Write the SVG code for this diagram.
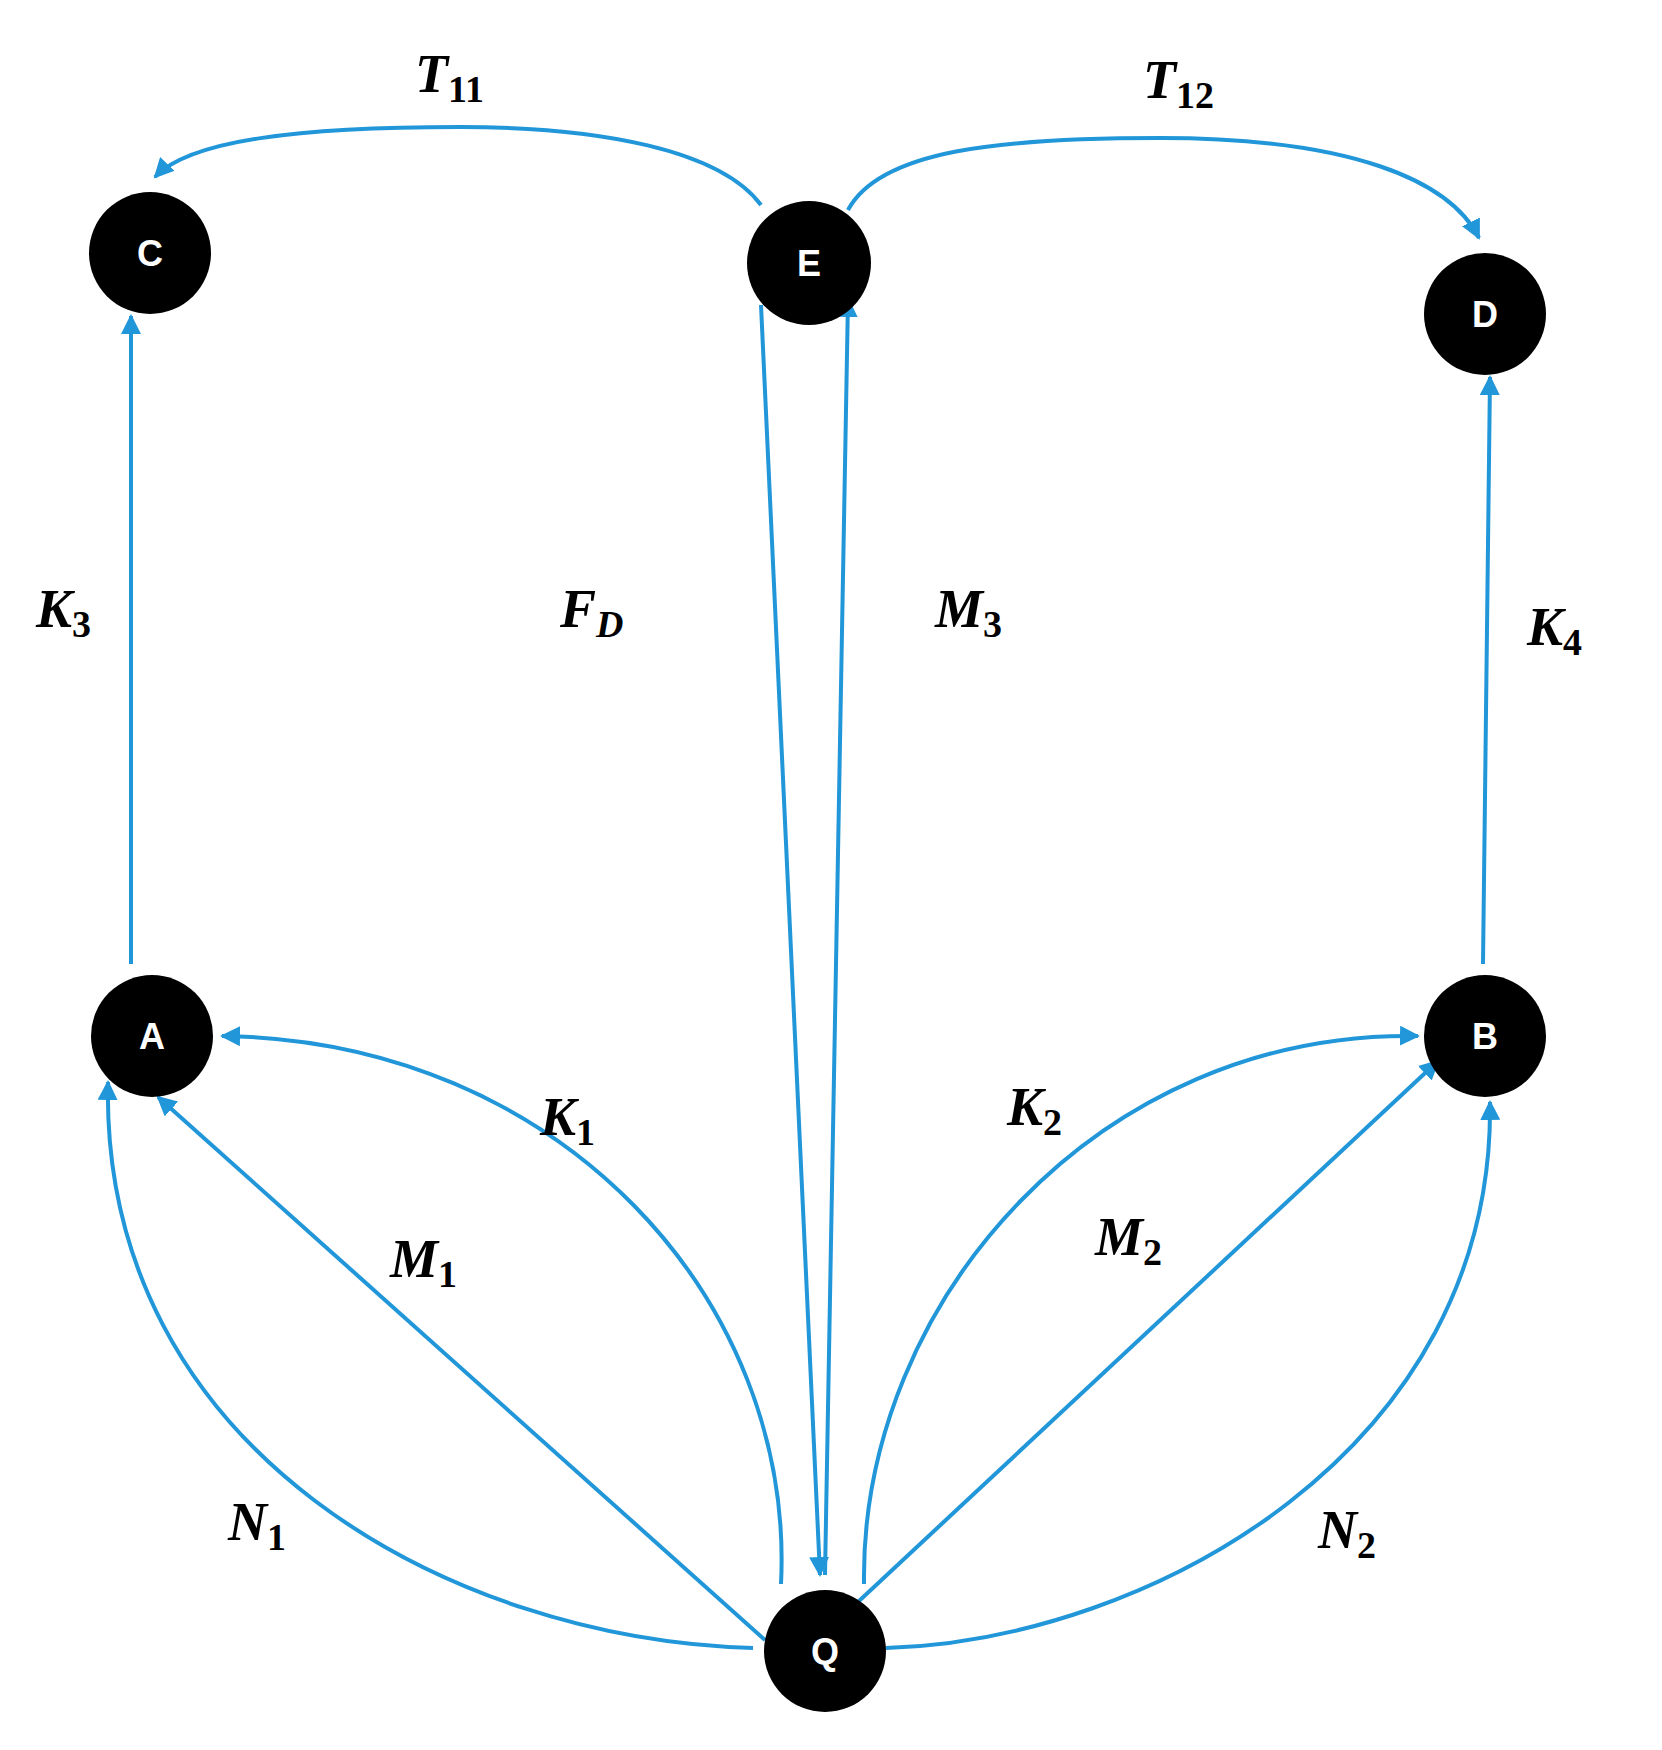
<svg xmlns="http://www.w3.org/2000/svg" width="1662" height="1750" viewBox="0 0 1662 1750">
<style>
.n{fill:#000}
.nt{fill:#fff;font-family:"Liberation Sans",Arial,sans-serif;font-size:36px;font-weight:bold;text-anchor:middle}
.e{fill:none;stroke:#2196d8;stroke-width:4}
.l{font-family:"Liberation Serif","Times New Roman",serif;font-weight:bold;font-style:italic;font-size:54px;fill:#000}
.s{font-size:38px;font-style:normal}
</style>
<defs>
<marker id="ar" viewBox="0 0 10 10" refX="9" refY="5" markerWidth="5" markerHeight="5" orient="auto" markerUnits="strokeWidth">
<path d="M0,0 L10,5 L0,10 z" fill="#2196d8"/>
</marker>
</defs>
<rect width="1662" height="1750" fill="#fff"/>
<g id="connectors">
<path class="e" marker-end="url(#ar)" d="M761,205 C720,150 600,127 460,127 C300,127 190,140 155,177"/>
<path class="e" marker-end="url(#ar)" d="M848,210 C880,150 1000,138 1160,138 C1350,138 1450,180 1479,238"/>
<path class="e" marker-end="url(#ar)" d="M131,964 L131,316"/>
<path class="e" marker-end="url(#ar)" d="M1483,964 L1490,377"/>
<path class="e" marker-end="url(#ar)" d="M761,305 L820,1575"/>
<path class="e" marker-end="url(#ar)" d="M825,1575 L848,299"/>
<path class="e" marker-end="url(#ar)" d="M781,1584 C795,1300 560,1040 222,1036"/>
<path class="e" marker-end="url(#ar)" d="M765,1640 L158,1097"/>
<path class="e" marker-end="url(#ar)" d="M753,1648 C450,1640 100,1450 108,1082"/>
<path class="e" marker-end="url(#ar)" d="M864,1584 C860,1300 1100,1030 1418,1036"/>
<path class="e" marker-end="url(#ar)" d="M859,1601 L1438,1061"/>
<path class="e" marker-end="url(#ar)" d="M886,1648 C1150,1640 1495,1450 1490,1102"/>
</g>
<g id="C"><circle class="n" cx="150" cy="253" r="61"/><text class="nt" x="150" y="266">C</text></g>
<g id="E"><circle class="n" cx="809" cy="263" r="62"/><text class="nt" x="809" y="276">E</text></g>
<g id="D"><circle class="n" cx="1485" cy="314" r="61"/><text class="nt" x="1485" y="327">D</text></g>
<g id="A"><circle class="n" cx="152" cy="1036" r="61"/><text class="nt" x="152" y="1049">A</text></g>
<g id="B"><circle class="n" cx="1485" cy="1036" r="61"/><text class="nt" x="1485" y="1049">B</text></g>
<g id="Q"><circle class="n" cx="825" cy="1651" r="61"/><text class="nt" x="825" y="1664">Q</text></g>
<g id="labels">
<text class="l" x="415" y="92">T<tspan class="s" dy="10">11</tspan></text>
<text class="l" x="1143" y="98">T<tspan class="s" dy="10">12</tspan></text>
<text class="l" x="36" y="627">K<tspan class="s" dy="10">3</tspan></text>
<text class="l" x="560" y="627">F<tspan class="s" dy="10" style="font-style:italic">D</tspan></text>
<text class="l" x="935" y="627">M<tspan class="s" dy="10">3</tspan></text>
<text class="l" x="1527" y="645">K<tspan class="s" dy="10">4</tspan></text>
<text class="l" x="540" y="1135">K<tspan class="s" dy="10">1</tspan></text>
<text class="l" x="1007" y="1125">K<tspan class="s" dy="10">2</tspan></text>
<text class="l" x="390" y="1277">M<tspan class="s" dy="10">1</tspan></text>
<text class="l" x="1095" y="1255">M<tspan class="s" dy="10">2</tspan></text>
<text class="l" x="228" y="1540">N<tspan class="s" dy="10">1</tspan></text>
<text class="l" x="1318" y="1548">N<tspan class="s" dy="10">2</tspan></text>
</g>
</svg>
